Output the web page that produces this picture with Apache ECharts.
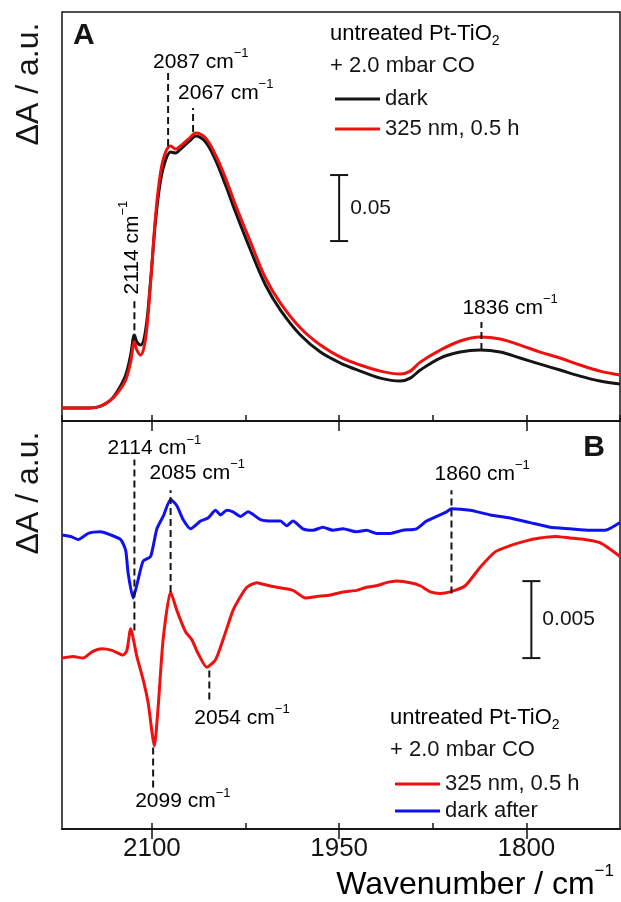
<!DOCTYPE html>
<html><head><meta charset="utf-8">
<script src="https://cdn.jsdelivr.net/npm/echarts@6/dist/echarts.min.js"></script>
<style>html,body{margin:0;padding:0;background:#fff}#c{width:621px;height:902px}</style>
</head><body><div id="c"></div>
<script>
// ---------------- data ----------------
const xTickLabels = [2100, 1950, 1800];

// Panel A: absorbance spectra
const wnA = [2172,2150,2141,2133,2127,2121,2117,2114,2112,2109,2105,2101,2097,2093,2089,2085,2081,2077,2069,2065,2057,2049,2041,2033,2021,2009,1997,1981,1965,1949,1933,1917,1901,1893,1885,1869,1853,1837,1821,1805,1789,1773,1757,1741,1725];
const darkA = [0,0,0.0015,0.0061,0.0136,0.0250,0.0402,0.0553,0.0500,0.0477,0.0591,0.0970,0.1424,0.1727,0.1879,0.1939,0.1932,0.1962,0.2030,0.2061,0.2015,0.1879,0.1689,0.1485,0.1197,0.0932,0.0742,0.0553,0.0424,0.0341,0.0280,0.0227,0.0205,0.0227,0.0288,0.0379,0.0424,0.0439,0.0424,0.0379,0.0333,0.0288,0.0242,0.0205,0.0182];
const uvA = [0,0,0.0015,0.0061,0.0121,0.0212,0.0348,0.0500,0.0439,0.0402,0.0530,0.0955,0.1462,0.1788,0.1939,0.1985,0.1962,0.1985,0.2053,0.2083,0.2045,0.1917,0.1742,0.1538,0.1258,0.0985,0.0795,0.0606,0.0477,0.0386,0.0326,0.0280,0.0258,0.0280,0.0348,0.0439,0.0508,0.0538,0.0523,0.0477,0.0424,0.0379,0.0326,0.0280,0.0250];

// Panel B: difference spectra
const wnRedB = [2172,2163,2155,2148,2140,2132,2123,2120,2117,2112,2107,2103,2098,2095,2091,2085,2080,2073,2068,2063,2056,2049,2043,2035,2029,2024,2016,2011,2000,1987,1977,1968,1957,1947,1936,1928,1920,1912,1904,1893,1885,1877,1869,1861,1849,1837,1825,1813,1801,1789,1777,1765,1753,1741,1725];
const redB = [0,0.0001,0,0.0004,0.0006,0.0005,0.0002,0.0005,0.0019,0.0001,-0.0014,-0.0029,-0.0057,-0.0032,0.0012,0.0043,0.0031,0.0017,0.0012,0.0003,-0.0006,-0.0001,0.0012,0.0031,0.0040,0.0046,0.0049,0.0048,0.0046,0.0044,0.0039,0.0040,0.0041,0.0043,0.0044,0.0046,0.0047,0.0049,0.0050,0.0049,0.0047,0.0043,0.0042,0.0043,0.0047,0.0059,0.0069,0.0073,0.0076,0.0078,0.0079,0.0078,0.0077,0.0075,0.0066];
const wnBlueB = [2172,2165,2159,2151,2141,2133,2125,2121,2119,2115,2111,2107,2101,2096,2091,2085,2080,2075,2069,2061,2055,2049,2045,2040,2035,2029,2023,2013,2003,1997,1992,1987,1979,1971,1963,1955,1947,1936,1928,1920,1909,1899,1888,1880,1872,1864,1860,1845,1829,1813,1797,1781,1765,1749,1737,1725];
const blueB = [0.0080,0.0079,0.0077,0.0081,0.0082,0.0080,0.0077,0.0070,0.0055,0.0039,0.0051,0.0063,0.0066,0.0084,0.0092,0.0103,0.0099,0.0090,0.0084,0.0089,0.0091,0.0096,0.0093,0.0096,0.0095,0.0092,0.0095,0.0090,0.0089,0.0089,0.0086,0.0089,0.0084,0.0083,0.0085,0.0083,0.0084,0.0082,0.0083,0.0081,0.0081,0.0083,0.0084,0.0089,0.0092,0.0095,0.0097,0.0096,0.0093,0.0091,0.0088,0.0085,0.0084,0.0083,0.0083,0.0088];

const peaksA = [2114, 2087, 2067, 1836];
const peaksB = [2114, 2085, 2054, 2099, 1860];
const scaleBarA = [1950, 0.1265, 0.1765];
const scaleBarB = [1796, 0.0, 0.005];

// ---------------- layout / style ----------------
const FONT = 'Liberation Sans, Arial, sans-serif';
const INK = '#151515';
const RED = '#f01010', BLUE = '#1010f0';
const zip = (xs, ys) => xs.map((x, i) => [x, ys[i]]);
const richCm = {
  n: {fontSize: 21, fontFamily: FONT, color: INK, lineHeight: 30},
  s: {fontSize: 13, fontFamily: FONT, color: INK, verticalAlign: 'top', lineHeight: 13}
};
// dashed-line extents (data y) and label offsets (px) per peak
const layoutA = {
  2114: {y1: 0.059, y2: 0.083, dx: -2, dy: -4, rot: true},
  2087: {y1: 0.1985, y2: 0.2545, dx: -15, dy: -10},
  2067: {y1: 0.2091, y2: 0.2273, dx: -15, dy: -15},
  1836: {y1: 0.0439, y2: 0.0652, dx: -19, dy: -14}
};
const layoutB = {
  2114: {y1: 0.0018, y2: 0.0129, dx: -27, dy: -11},
  2085: {y1: 0.0043, y2: 0.0109, dx: -21, dy: -17},
  1860: {y1: 0.0042, y2: 0.0109, dx: -17, dy: -16},
  2054: {y1: -0.0008, y2: -0.0029, dx: -15, dy: 15},
  2099: {y1: -0.0058, y2: -0.0084, dx: -18, dy: 14}
};

function annotSeries(peaks, layout, xi, yi) {
  return {
    type: 'custom', xAxisIndex: xi, yAxisIndex: yi, silent: true, z: 4,
    data: peaks.map(p => [p, layout[p].y1, layout[p].y2]),
    renderItem(params, api) {
      const p = api.value(0), L = layout[p];
      const a = api.coord([p, api.value(1)]), b = api.coord([p, api.value(2)]);
      const txt = {
        type: 'text', x: b[0] + L.dx, y: b[1] + L.dy, rotation: L.rot ? Math.PI / 2 : 0,
        style: {text: '{n|' + p + ' cm}{s|\u22121}', rich: richCm, align: 'left', verticalAlign: 'middle'}
      };
      return {type: 'group', children: [
        {type: 'line', shape: {x1: a[0], y1: a[1], x2: b[0], y2: b[1]},
         style: {stroke: INK, lineWidth: 2, lineDash: [7, 4]}},
        txt
      ]};
    }
  };
}
function scaleSeries(bar, xi, yi) {
  return {
    type: 'custom', xAxisIndex: xi, yAxisIndex: yi, silent: true, z: 4,
    data: [bar],
    renderItem(params, api) {
      const a = api.coord([api.value(0), api.value(1)]), b = api.coord([api.value(0), api.value(2)]);
      const w = 9;
      const label = String(+(api.value(2) - api.value(1)).toFixed(4));
      return {type: 'group', children: [
        {type: 'line', shape: {x1: a[0], y1: a[1], x2: b[0], y2: b[1]}, style: {stroke: INK, lineWidth: 2}},
        {type: 'line', shape: {x1: a[0] - w, y1: a[1], x2: a[0] + w, y2: a[1]}, style: {stroke: INK, lineWidth: 2}},
        {type: 'line', shape: {x1: b[0] - w, y1: b[1], x2: b[0] + w, y2: b[1]}, style: {stroke: INK, lineWidth: 2}},
        {type: 'text', x: a[0] + 11, y: (a[1] + b[1]) / 2,
         style: {text: label, fontSize: 21, fontFamily: FONT, fill: INK, align: 'left', verticalAlign: 'middle'}}
      ]};
    }
  };
}
function xAxes(gridIndex, withLabels) {
  const base = {
    type: 'value', gridIndex, min: 1725, max: 2172, inverse: true, position: 'bottom',
    splitLine: {show: false},
    axisLine: {show: true, onZero: false, lineStyle: {color: INK, width: 1.5}}
  };
  return [
    // short ticks every 75 cm-1, labels at the major values
    Object.assign({}, base, {
      interval: 75,
      axisTick: {show: true, inside: true, length: 6, lineStyle: {color: INK, width: 1.5}},
      axisLabel: withLabels ? {
        show: true, margin: 7, fontSize: 26, fontFamily: FONT, color: INK,
        showMinLabel: false, showMaxLabel: false,
        formatter: v => (xTickLabels.indexOf(v) >= 0 ? String(v) : '')
      } : {show: false}
    }),
    // long ticks at the labelled values (minor ticks halfway between 150-steps counted from min)
    Object.assign({}, base, {
      interval: 150,
      axisTick: {show: false},
      minorTick: {show: true, splitNumber: 2, length: 10, lineStyle: {color: INK, width: 1.5}},
      axisLabel: {show: false}
    })
  ];
}
const lineBase = {type: 'line', showSymbol: false, smooth: 0.35, animation: false};

const option = {
  animation: false,
  backgroundColor: '#fff',
  grid: [
    {left: 62, right: 1, top: 12, height: 409, show: true, borderColor: INK, borderWidth: 1.5},
    {left: 62, right: 1, top: 421, height: 408, show: true, borderColor: INK, borderWidth: 1.5}
  ],
  xAxis: [...xAxes(0, false), ...xAxes(1, true)],
  yAxis: [
    {type: 'value', gridIndex: 0, min: -0.0098, max: 0.30, show: false},
    {type: 'value', gridIndex: 1, min: -0.0111, max: 0.0154, show: false}
  ],
  legend: [
    {data: ['dark', '325 nm, 0.5 h'], orient: 'vertical', left: 330, top: 81, icon: 'rect',
     itemWidth: 45, itemHeight: 3, itemGap: 4, textStyle: {fontSize: 22, fontFamily: FONT, color: INK, lineHeight: 26}},
    {data: ['325 nm, 0.5 h', 'dark after'], orient: 'vertical', left: 390, top: 766, icon: 'rect',
     itemWidth: 45, itemHeight: 3, itemGap: 1, textStyle: {fontSize: 22, fontFamily: FONT, color: INK, lineHeight: 26}}
  ],
  graphic: [
    {type: 'text', x: 29, y: 84, rotation: Math.PI / 2,
     style: {text: '\u0394A / a.u.', fontSize: 32, fontFamily: FONT, fill: INK, align: 'center', verticalAlign: 'middle'}},
    {type: 'text', x: 29, y: 493, rotation: Math.PI / 2,
     style: {text: '\u0394A / a.u.', fontSize: 32, fontFamily: FONT, fill: INK, align: 'center', verticalAlign: 'middle'}},
    {type: 'text', x: 73, y: 36,
     style: {text: 'A', fontSize: 30, fontWeight: 'bold', fontFamily: FONT, fill: INK, align: 'left', verticalAlign: 'middle'}},
    {type: 'text', x: 605, y: 448,
     style: {text: 'B', fontSize: 30, fontWeight: 'bold', fontFamily: FONT, fill: INK, align: 'right', verticalAlign: 'middle'}},
    {type: 'text', x: 614, y: 885,
     style: {text: '{n|Wavenumber / cm}{s|\u22121}', align: 'right', verticalAlign: 'middle',
       rich: {n: {fontSize: 32, fontFamily: FONT, color: INK, lineHeight: 44},
              s: {fontSize: 17, fontFamily: FONT, color: INK, verticalAlign: 'top', lineHeight: 17}}}},
    {type: 'text', x: 330, y: 34,
     style: {text: '{n|untreated Pt-TiO}{b|2}', align: 'left', verticalAlign: 'middle',
       rich: {n: {fontSize: 22, fontFamily: FONT, color: INK, lineHeight: 28},
              b: {fontSize: 14, fontFamily: FONT, color: INK, verticalAlign: 'bottom', lineHeight: 14}}}},
    {type: 'text', x: 330, y: 66,
     style: {text: '+ 2.0 mbar CO', fontSize: 22, fontFamily: FONT, fill: INK, align: 'left', verticalAlign: 'middle'}},
    {type: 'text', x: 390, y: 718,
     style: {text: '{n|untreated Pt-TiO}{b|2}', align: 'left', verticalAlign: 'middle',
       rich: {n: {fontSize: 22, fontFamily: FONT, color: INK, lineHeight: 28},
              b: {fontSize: 14, fontFamily: FONT, color: INK, verticalAlign: 'bottom', lineHeight: 14}}}},
    {type: 'text', x: 390, y: 750,
     style: {text: '+ 2.0 mbar CO', fontSize: 22, fontFamily: FONT, fill: INK, align: 'left', verticalAlign: 'middle'}}
  ],
  series: [
    Object.assign({}, lineBase, {name: 'dark', xAxisIndex: 0, yAxisIndex: 0, data: zip(wnA, darkA),
      color: INK, lineStyle: {color: INK, width: 3}, z: 2}),
    Object.assign({}, lineBase, {name: '325 nm, 0.5 h', xAxisIndex: 0, yAxisIndex: 0, data: zip(wnA, uvA),
      color: RED, lineStyle: {color: RED, width: 3}, z: 3}),
    Object.assign({}, lineBase, {name: '325 nm, 0.5 h', xAxisIndex: 2, yAxisIndex: 1, data: zip(wnRedB, redB),
      smooth: 0.2, color: RED, lineStyle: {color: RED, width: 3}, z: 3}),
    Object.assign({}, lineBase, {name: 'dark after', xAxisIndex: 2, yAxisIndex: 1, data: zip(wnBlueB, blueB),
      smooth: 0.2, color: BLUE, lineStyle: {color: BLUE, width: 3}, z: 3}),
    annotSeries(peaksA, layoutA, 0, 0),
    annotSeries(peaksB, layoutB, 2, 1),
    scaleSeries(scaleBarA, 0, 0),
    scaleSeries(scaleBarB, 2, 1)
  ]
};
const chart = echarts.init(document.getElementById('c'), null, {renderer: 'canvas'});
chart.setOption(option);
</script>
</body></html>
